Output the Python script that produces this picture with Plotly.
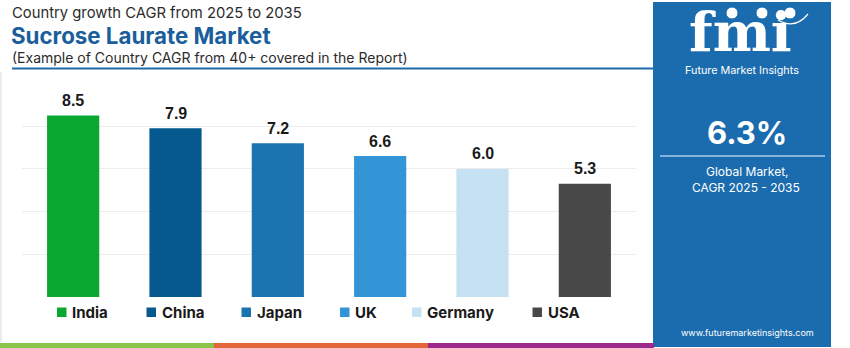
import plotly.graph_objects as go

# Country CAGR values, 2025-2035
countries = ["India", "China", "Japan", "UK", "Germany", "USA"]
cagr = [8.5, 7.9, 7.2, 6.6, 6.0, 5.3]
bar_colors = ["#0aa831", "#05598e", "#1b73b0", "#3394d6", "#c5e1f3", "#484848"]
global_cagr = "6.3%"

title_top = "Country growth CAGR from 2025 to 2035"
title_main = "Sucrose Laurate Market"
title_sub = "(Example of Country CAGR from 40+ covered in the Report)"

W, H = 850, 348
PANEL = "#1b6cae"


def px(x):
    return x / W


def py(y):
    return 1 - y / H


fig = go.Figure()
fig.add_trace(go.Bar(
    x=countries, y=cagr, marker=dict(color=bar_colors, line=dict(width=0)),
    width=0.51, showlegend=False, hoverinfo="x+y",
))

annotations = []
shapes = []

# value labels above the bars
for c, v in zip(countries, cagr):
    annotations.append(dict(
        x=c, y=v, xref="x", yref="y", text=f"{v:.1f}", showarrow=False,
        yanchor="middle", yshift=15,
        font=dict(family="Liberation Sans", size=16, color="#1a1a1a", weight="bold"),
    ))

# header texts
annotations += [
    dict(x=px(11), y=py(12.5), xref="paper", yref="paper", text=title_top,
         showarrow=False, xanchor="left", yanchor="middle", borderpad=0,
         font=dict(family="Inter", size=14.8, color="#2b2b2b")),
    dict(x=px(10), y=py(35.5), xref="paper", yref="paper", text=f"<b>{title_main}</b>",
         showarrow=False, xanchor="left", yanchor="middle", borderpad=0,
         font=dict(family="Inter", size=22.3, color="#1a5e9c")),
    dict(x=px(11), y=py(58), xref="paper", yref="paper", text=title_sub,
         showarrow=False, xanchor="left", yanchor="middle", borderpad=0,
         font=dict(family="Inter", size=14, color="#2b2b2b")),
]

# rule under the header
shapes.append(dict(type="line", xref="paper", yref="paper",
                   x0=px(12), x1=px(654), y0=py(68.5), y1=py(68.5),
                   line=dict(color="#1e6aa8", width=2)))
# light frame on the left of the chart area
shapes.append(dict(type="line", xref="paper", yref="paper",
                   x0=px(1), x1=px(1), y0=py(72), y1=py(342),
                   line=dict(color="#e4e4e4", width=1.5)))

# custom legend row
legend_left = [57, 146.5, 241.5, 340, 412, 532.5]
for name, col, lx in zip(countries, bar_colors, legend_left):
    shapes.append(dict(type="rect", xref="paper", yref="paper",
                       x0=px(lx), x1=px(lx + 9.5), y0=py(307.5), y1=py(317),
                       fillcolor=col, line=dict(width=0)))
    annotations.append(dict(
        x=px(lx + 13), y=py(312), xref="paper", yref="paper", text=f"<b>{name}</b>",
        showarrow=False, xanchor="left", yanchor="middle",
        font=dict(family="Inter", size=15, color="#1a1a1a"),
    ))

# coloured strip along the bottom edge
for x0, x1, col in [(0, 214, "#8cc34b"), (214, 428, "#e2663a"), (428, 654, "#9b2a8c")]:
    shapes.append(dict(type="rect", xref="paper", yref="paper",
                       x0=px(x0), x1=px(x1), y0=0, y1=py(343),
                       fillcolor=col, line=dict(width=0)))

# right-hand info panel
shapes.append(dict(type="rect", xref="paper", yref="paper", layer="below",
                   x0=px(653), x1=px(831), y0=py(347), y1=py(2),
                   fillcolor=PANEL, line=dict(width=0)))

# fmi logo: white letters with horizontal panel-coloured stripes
annotations.append(dict(
    x=px(740), y=py(57), xref="paper", yref="paper", text="<b>fmi</b>",
    showarrow=False, xanchor="center", yanchor="bottom", yshift=-9,
    font=dict(family="DejaVu Serif", size=55, color="white"),
))
for i in range(12):
    yy = 14 + i * 4
    shapes.append(dict(type="line", xref="paper", yref="paper", layer="above",
                       x0=px(676), x1=px(806), y0=py(yy), y1=py(yy),
                       line=dict(color=PANEL, width=1.3)))
for cx in [732, 762, 790]:
    shapes.append(dict(type="circle", xref="paper", yref="paper", layer="above",
                       x0=px(cx - 6), x1=px(cx + 6), y0=py(19), y1=py(7),
                       fillcolor="white", line=dict(color=PANEL, width=1)))
shapes.append(dict(type="path", xref="paper", yref="paper", layer="above",
                   path=f"M {px(778)} {py(20)} Q {px(795)} {py(30)} {px(808)} {py(14)}",
                   line=dict(color="white", width=1.2)))

annotations += [
    dict(x=px(742), y=py(70), xref="paper", yref="paper", text="Future Market Insights",
         showarrow=False, xanchor="center", yanchor="middle",
         font=dict(family="Inter", size=10.8, color="white")),
    dict(x=px(747), y=py(132), xref="paper", yref="paper", text=f"<b>{global_cagr}</b>",
         showarrow=False, xanchor="center", yanchor="middle",
         font=dict(family="Inter", size=31, color="white")),
    dict(x=px(747), y=py(172), xref="paper", yref="paper", text="Global Market,",
         showarrow=False, xanchor="center", yanchor="middle",
         font=dict(family="Inter", size=12, color="white")),
    dict(x=px(746), y=py(187), xref="paper", yref="paper", text="CAGR 2025 - 2035",
         showarrow=False, xanchor="center", yanchor="middle",
         font=dict(family="Inter", size=12, color="white")),
    dict(x=px(747), y=py(332), xref="paper", yref="paper", text="www.futuremarketinsights.com",
         showarrow=False, xanchor="center", yanchor="middle",
         font=dict(family="Inter", size=9, color="white")),
]
shapes.append(dict(type="line", xref="paper", yref="paper",
                   x0=px(660), x1=px(825), y0=py(156), y1=py(156),
                   line=dict(color="#a9cdec", width=1.5)))

fig.update_layout(
    width=W, height=H, margin=dict(l=0, r=0, t=0, b=0),
    paper_bgcolor="white", plot_bgcolor="white",
    bargap=0.49,
    xaxis=dict(domain=[px(22), px(636)], showticklabels=False, showgrid=False,
               zeroline=False, showline=False, ticks=""),
    yaxis=dict(domain=[py(297), py(83.5)], range=[0, 10], dtick=2,
               showticklabels=False, showgrid=True, gridcolor="#ececec", gridwidth=1,
               zeroline=False, showline=False, ticks=""),
    annotations=annotations, shapes=shapes, showlegend=False,
)

fig.write_html("out.html")
